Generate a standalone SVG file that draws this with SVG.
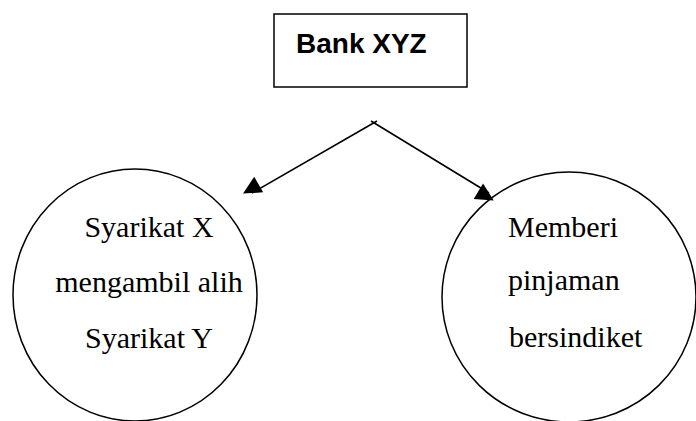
<svg xmlns="http://www.w3.org/2000/svg" width="696" height="421" viewBox="0 0 696 421">
<style>
.shape{fill:#fff;stroke:#000;stroke-width:1.5}
.conn{fill:none;stroke:#000;stroke-width:1.6}
.lbl{font-family:"Liberation Serif","Times New Roman",serif;font-size:30px;fill:#000}
.title{font-family:"Liberation Sans",Arial,sans-serif;font-size:28px;font-weight:bold;fill:#000}
</style>
<defs>
<marker id="ah" viewBox="0 0 10 10" refX="10" refY="5" markerWidth="10" markerHeight="10" markerUnits="userSpaceOnUse" orient="auto" overflow="visible">
<path d="M0,0 L10,5 L0,10 z" fill="#000" transform="scale(1.8)"/>
</marker>
</defs>
<rect width="696" height="421" fill="#fff"/>
<g id="bank">
<rect class="shape" x="274" y="14" width="193" height="73"/>
<text class="title" x="296" y="53">Bank XYZ</text>
</g>
<g id="left">
<ellipse class="shape" cx="135" cy="295" rx="122" ry="126"/>
<text class="lbl" text-anchor="middle" x="149" y="237">Syarikat X</text>
<text class="lbl" text-anchor="middle" x="149" y="292">mengambil alih</text>
<text class="lbl" text-anchor="middle" x="149" y="348">Syarikat Y</text>
</g>
<g id="right">
<ellipse class="shape" cx="569" cy="297" rx="127" ry="125"/>
<text class="lbl" x="508" y="237">Memberi</text>
<text class="lbl" x="508" y="290">pinjaman</text>
<text class="lbl" x="509" y="347">bersindiket</text>
</g>
<g id="connectors">
<line class="conn" x1="377" y1="121" x2="252" y2="193" marker-end="url(#ah)"/>
<line class="conn" x1="371" y1="121" x2="489" y2="193" marker-end="url(#ah)"/>
</g>
</svg>
